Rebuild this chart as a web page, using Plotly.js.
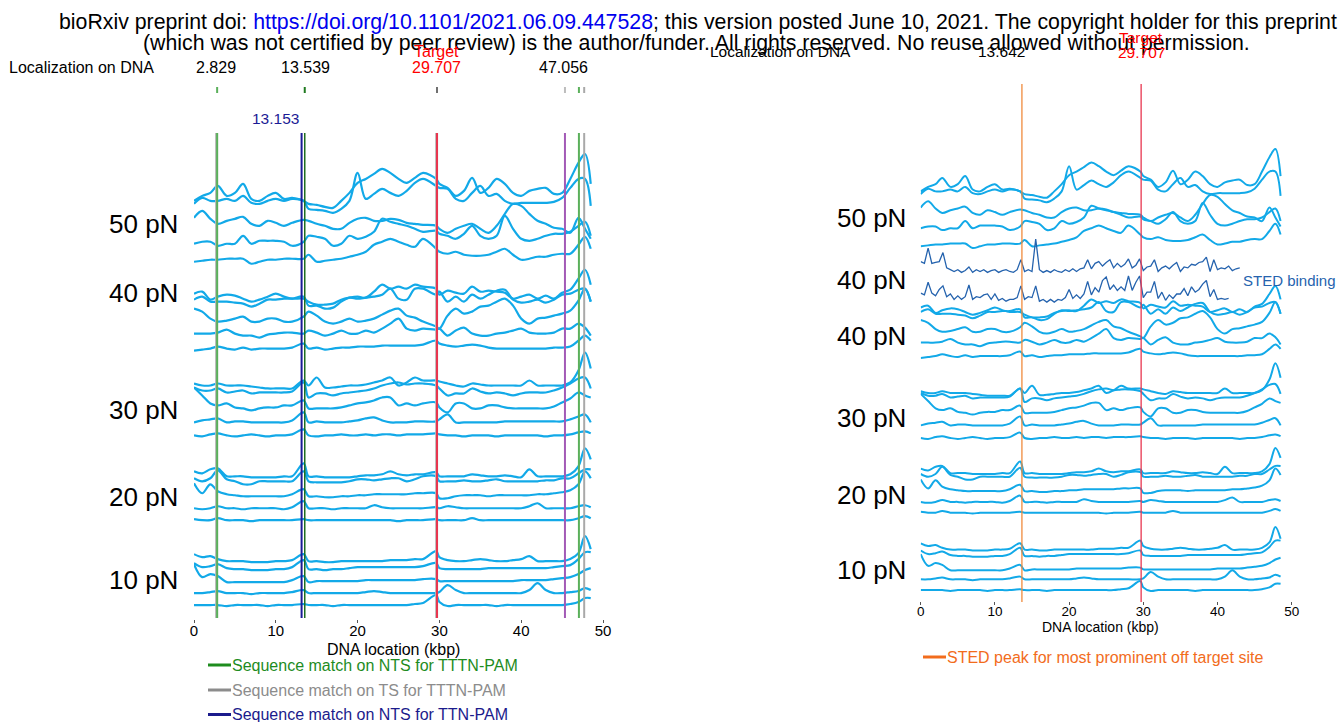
<!DOCTYPE html>
<html><head><meta charset="utf-8">
<script src="https://cdn.plot.ly/plotly-3.0.1.min.js"></script>
<style>html,body{margin:0;padding:0;background:#fff}#chart{width:1344px;height:722px}</style>
</head><body><div id="chart"></div>
<script>
// ---------- data ----------
const X = [0,1,2,2.9,4,5,6,7,8,9,10,11,12,13.4,14,15,16,17,18,19,20,21,22,23,24,25,26,27,28,29.6,30,31,32,33,34,35,36,37,38,39,40,41,42,43,44,45,46,47,47.8,48.5];
const forces = ['50 pN','40 pN','30 pN','20 pN','10 pN'];

const prof50 = [
 [0,5,8,15,5,8,17,2,0,5, 8,2,3,0,-3,-4,-6,-7,0,8, 18,22,27,32,28,22,18,23,28,22, 17,13,5,10,23,8,13,22,17,8, 5,10,12,13,7,8,22,38,47, 17],
 [-3,3,0,0,2,0,5,-2,-3,0, 2,0,2,0,-8,-9,-10,-12,-8,0, 28,2,7,12,8,5,10,18,22,15, 13,12,2,0,8,15,5,7,0,-3, -2,-2,-2,-2,-1,3,13,22,22, -5],
 [3,10,2,-3,0,2,4,-3,-5,0, -2,-5,-2,1,0,-3,-5,-8,-8,-2, 2,3,0,0,2,1,-2,-3,-4,-5, -8,-12,-8,-5,-3,-8,-12,-5,7,17, 15,7,0,-3,-7,-8,-12,3,-8, -18],
 [0,2,2,-2,0,0,8,0,3,3, 3,2,-2,2,8,7,5,-2,0,8, 5,7,12,25,22,20,18,15,12,13, 10,8,5,10,18,8,5,8,28,15, 5,3,5,8,10,10,12,18,22, 8],
 [0,1,2,2,3,3,3,-2,0,2, 2,3,3,3,7,0,1,2,3,5, 7,10,17,20,23,20,17,15,23,13, 10,8,10,7,6,6,7,10,13,7, 2,3,5,5,7,8,8,17,25, 13]
];
const prof40 = [
 [3,5,-3,0,2,1,-2,-5,-3,0, 3,0,-2,-2,-5,-8,-8,-7,-3,-1, 0,-1,5,12,8,10,8,12,10,8, 2,6,4,3,10,5,6,5,4,-2, 0,2,-2,1,-2,4,7,18,27, 12],
 [2,5,0,0,0,-1,-2,-5,-2,2, 2,3,3,5,-4,-4,-7,-6,0,4, 3,4,5,7,13,3,2,13,13,7, 10,0,5,0,7,3,7,11,12,2, -1,0,2,-1,2,7,8,12,13, 0],
 [10,7,0,-3,-2,0,2,-3,-3,0, 0,-3,-3,2,7,3,-3,-5,-3,0, -3,-2,0,4,8,10,3,1,-3,-8, -10,3,10,5,7,12,13,17,20,13, 0,-5,0,1,3,5,8,18,30, 17],
 [2,2,2,3,6,2,0,0,-2,1, 2,3,3,2,5,3,0,2,5,2, 2,5,3,7,12,17,7,5,7,6, 7,0,5,8,2,0,0,2,3,5, 7,3,2,2,3,7,7,12,8, 0],
 [-2,-1,0,2,0,-1,1,-1,0,0, 0,0,1,5,0,1,-1,0,1,1, 2,2,2,3,3,3,3,3,4,8, 5,3,2,3,4,3,1,0,0,0, 0,0,0,0,1,1,2,8,13, 8]
];
const prof30 = [
 [2,0,0,2,0,0,0,-1,-2,-3, -3,-3,-3,5,0,8,-2,-2,-1,0, 0,1,3,5,8,0,3,8,5,5, 4,2,0,-1,2,1,0,0,0,0, 0,5,0,0,0,0,3,15,33, 17],
 [3,0,0,2,-2,-1,0,-3,-2,-2, -2,-2,-1,8,-7,-3,-3,-5,-3,-2, -1,0,2,5,7,8,6,7,7,5, 2,-5,-3,-3,2,-1,-3,-2,-3,-5, -3,-2,-2,-2,0,3,7,12,13, 2],
 [18,10,2,0,2,-2,-3,-5,-3,-2, -2,0,0,5,-3,-3,-3,-3,-2,0, 2,3,5,8,8,0,2,0,2,3, -2,-7,2,2,-3,-3,0,0,-2,-3, -3,-3,-3,-3,-1,3,7,13,10, 8],
 [0,2,3,4,0,1,1,0,0,0, 0,0,2,10,0,1,0,0,0,1, 2,4,5,2,0,0,0,1,1,1, 3,8,0,0,0,0,0,0,1,1, 1,1,1,1,1,1,3,6,8, 0],
 [0,-1,1,2,0,-1,0,1,0,-1, 0,0,1,6,0,-1,0,0,1,0, 0,1,0,1,1,0,1,1,1,2, 1,0,0,-1,0,0,0,-1,0,0, 0,0,0,-1,0,0,1,3,4, 2]
];
const prof20 = [
 [5,3,7,8,0,0,0,-1,-1,-1, -1,0,0,13,0,0,-1,-1,-1,-1, 0,1,1,2,5,2,1,2,2,4, 0,0,0,0,2,1,0,0,1,0, -1,7,0,0,0,0,2,10,28, 17],
 [3,0,3,11,2,0,-3,-3,0,0, 0,0,0,10,0,-1,-1,-1,-1,0, 2,2,1,2,3,3,0,2,5,5, 0,0,0,1,0,0,1,2,0,0, 0,0,0,1,1,3,3,8,12, 12],
 [13,3,12,5,2,1,0,0,0,0, 0,0,2,7,0,0,-1,-1,0,0, 1,1,2,2,2,2,2,3,3,3, -2,-2,0,1,1,1,0,1,1,1, 1,1,2,2,3,4,6,12,25, 18],
 [0,-1,0,2,0,0,-1,0,0,0, 0,-1,1,7,0,0,0,-1,0,0, 0,0,3,1,0,0,0,0,0,1, 0,2,1,0,0,0,0,0,0,0, 0,2,5,0,0,0,0,2,3, 1],
 [1,0,0,2,0,0,0,-1,0,0, 0,0,0,1,0,0,0,0,0,0, 0,0,0,0,0,-1,0,0,0,1, 0,0,0,0,2,0,0,0,0,0, 0,0,0,0,0,0,0,2,4, 2]
];
const prof10 = [
 [7,4,5,2,0,0,0,-1,-1,-1, 0,0,1,7,0,0,-1,-1,0,0, 0,0,0,0,1,1,1,2,2,10, 4,1,0,0,1,2,1,0,0,1, 2,5,0,0,0,0,2,8,25, 12],
 [6,2,3,5,1,0,0,-1,-1,-1, 0,0,2,9,0,0,-1,0,0,1, 2,2,2,2,2,2,2,2,3,6, 1,0,0,0,0,0,1,1,1,1, 1,1,1,1,2,3,4,10,17, 17],
 [18,5,8,6,0,0,0,0,0,0, 0,0,2,6,0,1,1,1,1,1, 1,2,2,2,2,2,2,2,3,3, 1,1,1,1,1,1,1,1,1,1, 2,2,2,2,3,4,5,8,12, 14],
 [0,0,1,2,0,0,0,-1,0,0, 0,0,1,3,0,0,0,0,0,0, 0,1,2,1,0,0,0,0,0,0, 1,8,3,0,0,0,0,0,0,0, 0,3,10,3,0,0,1,2,5, 3],
 [0,0,0,0,-1,0,0,0,0,-1, 0,0,0,1,0,0,0,-1,0,0, 0,0,0,0,0,0,0,1,2,10, 3,-1,0,0,0,0,0,-1,0,0, 0,0,0,0,0,0,1,3,7, 7]
];
const profiles = [prof50, prof40, prof30, prof20, prof10];

// STED binding profiles (right panel)
const STEDX = [0,0.5,1,1.5,2,2.5,3,3.5,4,4.5,5,5.5,6,6.5,7,7.5,8,8.5,9,9.5,10,10.5,11,11.5,12,12.5,13,13.5,14,14.5,15,15.5,16,16.5,17,17.5,18,18.5,19,19.5,20,20.5,21,21.5,22,22.5,23,23.5,24,24.5,25,25.5,26,26.5,27,27.5,28,28.5,29,29.5,30,30.5,31,31.5,32,32.5,33,33.5,34,34.5,35,35.5,36,36.5,37,37.5,38,38.5,39,39.5,40,40.5,41,41.5,42,42.5,43];
const stedA = [10,8,25,8,9,10,20,3,1,-1, 1,-2,0,4,-2,1,-1,1,-2,0, 1,-2,0,1,-1,-2,1,12,-1,1, -1,35,1,-2,0,-2,1,-1,-2,1, -1,2,-1,2,3,12,2,8,10,5, 9,12,3,8,4,7,13,3,6,13, 0,4,5,12,-1,3,5,2,6,9, -1,4,3,7,6,9,10,15,-1,12, 1,3,2,5,0,2,3];
const stedB = [8,6,20,8,5,12,16,4,7,1, 5,1,4,17,1,4,3,6,7,1, 7,0,2,-1,1,1,3,16,1,4, 3,16,-1,1,-2,1,-2,1,0,3, 12,2,6,2,7,21,6,14,9,22, 26,12,17,11,15,11,27,11,20,27, 3,9,9,21,2,9,0,6,2,7, 7,13,5,15,9,12,18,22,4,12, 1,2,1,2];

// sequence-match sites (kbp)
const siteLeft = [2.76, 2.829, 13.153, 13.539, 29.66, 29.707, 45.35, 47.056, 47.7];
const siteTop  = [2.829, 13.539, 29.707, 45.35, 47.056, 47.7];
const siteRight = [13.642, 29.707];
const xTicks = [0,10,20,30,40,50];

// ---------- layout / styles ----------
const W = 1344, H = 722;
const FONT = 'Liberation Sans, Arial, Helvetica, sans-serif';
const BLUE = '#12a9e8', STEDC = '#2563ae';
const siteLeftColor = ['#b8b8b8','#5bb05b','#1b1b95','#1f6e1f','#b8b8b8','#e8364f','#a35ab6','#5bb05b','#a9a9a9'];
const siteLeftWidth = [3,2,2,1.5,3,2,2,2,2];
const siteTopColor = ['#5bb05b','#1f7a1f','#707070','#bdbdbd','#5bb05b','#a9a9a9'];
const siteRightColor = ['#f08a3c','#e8364f'];
// stacking offsets per trace (left / right panel)
const offL = [[418,418,398,375,357],[322,317,300,283,270],[233,228,213,196,183],[142,137,122,110,98],[57,49,36,25,13]];
const offR = [[454,454,433,413,393],[322,318,301,284,271],[230,227,211,194,180],[141,137,121,109,97],[56,49,33,23,11]];
const offSted = [366,333];

const fx = px => px / W, fy = py => 1 - py / H;

const traces = [];
profiles.forEach((grp, g) => grp.forEach((p, i) => {
  traces.push({x: X, y: p.map(v => v + offL[g][i]), xaxis: 'x', yaxis: 'y', type: 'scatter', mode: 'lines',
    line: {color: BLUE, width: 2.2, shape: 'spline', smoothing: 1}, hoverinfo: 'skip'});
  traces.push({x: X, y: p.map(v => v + offR[g][i]), xaxis: 'x2', yaxis: 'y2', type: 'scatter', mode: 'lines',
    line: {color: BLUE, width: 2, shape: 'spline', smoothing: 1}, hoverinfo: 'skip'});
}));
[stedA, stedB].forEach((s, i) => {
  traces.push({x: STEDX.slice(0, s.length), y: s.map(v => v + offSted[i]), xaxis: 'x2', yaxis: 'y2', type: 'scatter', mode: 'lines',
    line: {color: STEDC, width: 1.3}, hoverinfo: 'skip'});
});

const shapes = [];
siteLeft.forEach((x, i) => shapes.push({type: 'line', xref: 'x', yref: 'paper', x0: x, x1: x, y0: fy(618), y1: fy(133),
  line: {color: siteLeftColor[i], width: siteLeftWidth[i]}}));
siteTop.forEach((x, i) => shapes.push({type: 'line', xref: 'x', yref: 'paper', x0: x, x1: x, y0: fy(93), y1: fy(87),
  line: {color: siteTopColor[i], width: 2}}));
siteRight.forEach((x, i) => shapes.push({type: 'line', xref: 'x2', yref: 'paper', x0: x, x1: x, y0: fy(602), y1: fy(84),
  line: {color: siteRightColor[i], width: 1.3}}));
// legend swatches
const legLeft = [['Sequence match on NTS for TTTN-PAM', '#1e8c1e', 665], ['Sequence match on TS for TTTN-PAM', '#8c8c8c', 690], ['Sequence match on NTS for TTN-PAM', '#1b1b8c', 714.5]];
legLeft.forEach(l => shapes.push({type: 'line', xref: 'paper', yref: 'paper', x0: fx(208), x1: fx(231), y0: fy(l[2]), y1: fy(l[2]), line: {color: l[1], width: 3}}));
shapes.push({type: 'line', xref: 'paper', yref: 'paper', x0: fx(923), x1: fx(946), y0: fy(657), y1: fy(657), line: {color: '#f26c1c', width: 3}});

function ann(text, px, py, size, color, anchor) {
  return {xref: 'paper', yref: 'paper', x: fx(px), y: fy(py), text: text, showarrow: false,
    xanchor: anchor || 'center', yanchor: 'middle', font: {family: FONT, size: size, color: color || '#000'}};
}
const annotations = [
  ann('bioRxiv preprint doi: <span style="color:#0000ee">https://doi.org/10.1101/2021.06.09.447528</span>; this version posted June 10, 2021. The copyright holder for this preprint', 698, 22, 21.3),
  ann('(which was not certified by peer review) is the author/funder. All rights reserved. No reuse allowed without permission.', 696, 43, 21.3),
  ann('Localization on DNA', 7, 68, 16, '#000', 'left'),
  ann('2.829', 216, 68, 16), ann('13.539', 305, 68, 16),
  ann('Target', 436, 52, 16, '#ff0000'), ann('29.707', 436, 68, 16, '#ff0000'),
  ann('47.056', 563, 68, 16),
  ann('13.153', 275, 119, 15.5, '#1b1b95'),
  ann('Localization on DNA', 708, 52, 15.5, '#000', 'left'),
  ann('13.642', 1001, 52, 15.5),
  ann('Target', 1141, 38, 15.5, '#ff0000'), ann('29.707', 1141, 53, 15.5, '#ff0000'),
  ann('DNA location (kbp)', 393, 649, 16),
  ann('DNA location (kbp)', 1100, 627, 14),
  ann('STED binding', 1241, 280, 15, '#2563ae', 'left'),
  ann('STED peak for most prominent off target site', 945, 657, 16, '#f26c1c', 'left')
];
legLeft.forEach(l => annotations.push(ann(l[0], 230, l[2], 16, l[1], 'left')));
const labL = [224, 293, 410, 497, 580];
labL.forEach((py, i) => annotations.push(ann(forces[i], 143, py, 26)));
const labR = [['50 pN', 218], ['40 pN', 280], ['40 pN', 336], ['30 pN', 418], ['20 pN', 495], ['10 pN', 570]];
labR.forEach(l => annotations.push(ann(l[0], 871, l[1], 26)));

const xcommon = {range: [0, 50], tickvals: xTicks, ticktext: xTicks.map(String), showgrid: false, zeroline: false, showline: false,
  ticks: 'outside', ticklen: 3, tickcolor: '#555', tickwidth: 1, ticklabelstandoff: -5, fixedrange: true};
const layout = {
  width: W, height: H, margin: {l: 0, r: 0, t: 0, b: 0}, paper_bgcolor: '#fff', plot_bgcolor: 'rgba(0,0,0,0)', showlegend: false,
  xaxis: Object.assign({}, xcommon, {domain: [fx(194), fx(603)], anchor: 'y', tickfont: {family: FONT, size: 15, color: '#000'}}),
  yaxis: {domain: [fy(619), fy(133)], range: [-1, 486], visible: false, fixedrange: true},
  xaxis2: Object.assign({}, xcommon, {domain: [fx(920.7), fx(1291.7)], anchor: 'y2', tickfont: {family: FONT, size: 13.5, color: '#000'}}),
  yaxis2: {domain: [fy(601), fy(84)], range: [-1.1, 573.3], visible: false, fixedrange: true},
  shapes: shapes, annotations: annotations
};
Plotly.newPlot('chart', traces, layout, {staticPlot: true, displayModeBar: false});
</script></body></html>
